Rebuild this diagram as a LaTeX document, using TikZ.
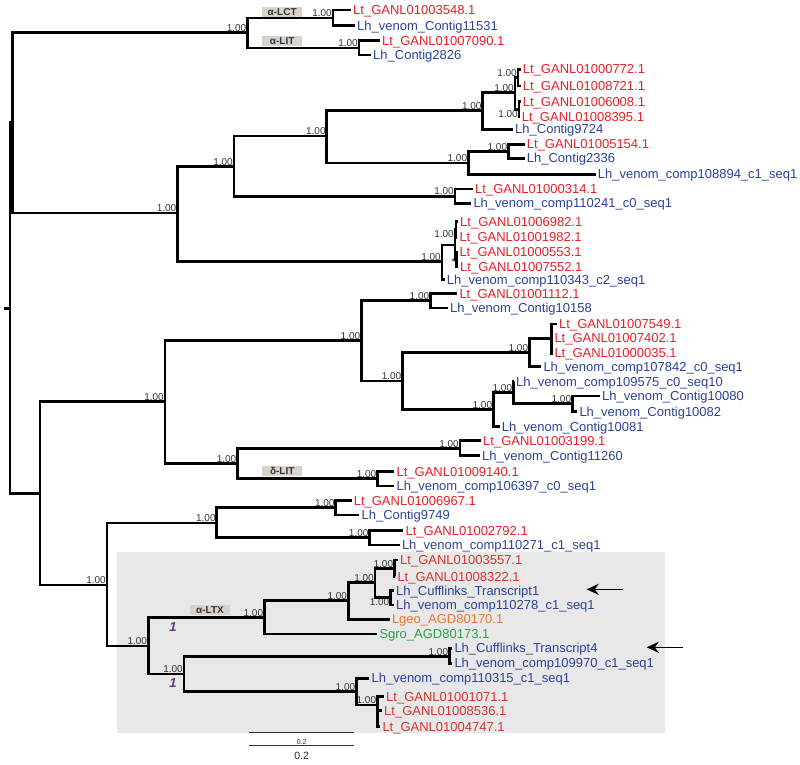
\documentclass[tikz,border=0pt]{standalone}
\usepackage{fontspec}
\setmainfont{Liberation Sans}
\usepackage{xcolor}
\usetikzlibrary{arrows.meta}

\definecolor{ltred}{RGB}{230,32,40}
\definecolor{ltredb}{RGB}{216,52,48}
\definecolor{lhblue}{RGB}{44,66,155}
\definecolor{lgeoorange}{RGB}{232,120,50}
\definecolor{sgrogreen}{RGB}{45,160,75}
\definecolor{boxgrey}{RGB}{232,232,232}
\definecolor{tagfill}{RGB}{217,211,205}
\definecolor{ltxpurple}{RGB}{105,50,140}

\begin{document}
\begin{tikzpicture}[x=1pt, y=-1pt,
  br/.style={line width=2.8pt},
  leaf/.style={anchor=west, inner xsep=2pt, inner ysep=0pt, text height=9.3pt, text depth=0pt, font=\fontsize{13}{15}\selectfont},
  lt/.style={leaf, text=ltred}, ltb/.style={leaf, text=ltredb}, lh/.style={leaf, text=lhblue},
  bsl/.style={font=\fontsize{10}{12}\selectfont, inner sep=1pt, text=black!80},
  boot/.style={label={[bsl]above left:1.00}},
  bootb/.style={label={[bsl]below left:1.00}},
  tag/.style={fill=tagfill, font=\fontsize{10}{11}\selectfont\bfseries, minimum width=40pt, minimum height=10pt, inner sep=0pt, text=black!80},
  pone/.style={font=\fontsize{13}{15}\selectfont\bfseries\itshape, text=ltxpurple, inner sep=0pt},
  arr/.style={line width=1.5pt, -{Stealth[length=12pt,width=11pt]}}]
\useasboundingbox (0,0) rectangle (800,764);
\fill[boxgrey] (117,552.3) rectangle (665,732.5);

\coordinate (rs) at (3.5,308.5);
\coordinate (r) at (10,308.5);
\coordinate (t0) at (12.5,122.3);
\coordinate[boot] (a1) at (247.5,32.3);
\coordinate[boot] (lct) at (333,18);
\coordinate[boot] (lit) at (359,48);
\node[tag] (glct) at (282.2,11.7) {α-LCT};
\node[tag] (glit) at (282.2,41.2) {α-LIT};
\node[lt] (lt3548) at (351,10) {Lt\_GANL01003548.1};
\node[lh] (lh11531) at (355,25.7) {Lh\_venom\_Contig11531};
\node[lt] (lt7090) at (380,40.7) {Lt\_GANL01007090.1};
\node[lh] (lh2826) at (371,55) {Lh\_Contig2826};

\coordinate[boot] (m1) at (177.5,213);
\coordinate[boot] (m2) at (234,166.7);
\coordinate[boot] (m4) at (326.8,136);
\coordinate[boot] (m6) at (482.7,110.8);
\coordinate[boot] (m8) at (515,92.5);
\coordinate[boot] (m9) at (518,77.7);
\coordinate[bootb] (m10) at (519,109.2);
\node[lt] (lt0772) at (520.7,69.3) {Lt\_GANL01000772.1};
\node[lt] (lt8721) at (520.7,86) {Lt\_GANL01008721.1};
\node[lt] (lt6008) at (520.7,101.7) {Lt\_GANL01006008.1};
\node[lt] (lt8395) at (519.7,116.7) {Lt\_GANL01008395.1};
\node[lh] (lh9724) at (513,129.3) {Lh\_Contig9724};
\coordinate[boot] (m7) at (468.3,163);
\coordinate[boot] (m11) at (508.3,151.3);
\node[lt] (lt5154) at (524.7,144.3) {Lt\_GANL01005154.1};
\node[lh] (lh2336) at (524.7,158.3) {Lh\_Contig2336};
\node[lh] (lh108894) at (595.7,174.3) {Lh\_venom\_comp108894\_c1\_seq1};
\coordinate[boot] (m5) at (455,196.2);
\node[lt] (lt0314) at (473,189) {Lt\_GANL01000314.1};
\node[lh] (lh110241) at (471.3,203.3) {Lh\_venom\_comp110241\_c0\_seq1};
\coordinate[boot] (m3) at (442,261.5);
\coordinate[label={[bsl,yshift=6pt]above left:1.00}] (q) at (455,245);
\coordinate (r1) at (456,229.5);
\coordinate[label={[bsl,yshift=-3pt]left:*}] (s1) at (456.5,259.3);
\node[lt] (lt6982) at (458,221.7) {Lt\_GANL01006982.1};
\node[lt] (lt1982) at (457.3,237.3) {Lt\_GANL01001982.1};
\node[lt] (lt0553) at (457.3,252) {Lt\_GANL01000553.1};
\node[lt] (lt7552) at (458,266.7) {Lt\_GANL01007552.1};
\node[lh] (lh110343) at (444.7,279.5) {Lh\_venom\_comp110343\_c2\_seq1};

\coordinate (b0) at (40,493.5);
\coordinate[boot] (c1) at (165,401.7);
\coordinate[boot] (c2) at (361.4,340.3);
\coordinate[boot] (c4) at (430.4,300.7);
\node[lt] (lt1112) at (457.3,293.5) {Lt\_GANL01001112.1};
\node[lh] (lh10158) at (448,308) {Lh\_venom\_Contig10158};
\coordinate[boot] (c5) at (402.5,381);
\coordinate[boot] (c6) at (529.3,352.3);
\coordinate (c8) at (551.7,338.5);
\node[lt] (lt7549) at (557,324) {Lt\_GANL01007549.1};
\node[lt] (lt7402) at (552.3,338.3) {Lt\_GANL01007402.1};
\node[lt] (lt0035) at (552.3,353.3) {Lt\_GANL01000035.1};
\node[lh] (lh107842) at (541.3,366.7) {Lh\_venom\_comp107842\_c0\_seq1};
\coordinate[boot] (c7) at (493.3,409.5);
\coordinate[boot] (c9) at (513.3,392.3);
\node[lh] (lh109575) at (514,381.7) {Lh\_venom\_comp109575\_c0\_seq10};
\coordinate[boot] (c10) at (572.3,403.3);
\node[lh] (lh10080) at (600,396) {Lh\_venom\_Contig10080};
\node[lh] (lh10082) at (577.3,411.7) {Lh\_venom\_Contig10082};
\node[lh] (lh10081) at (499.7,426.7) {Lh\_venom\_Contig10081};
\coordinate[boot] (c3) at (237.5,463.3);
\coordinate[boot] (c11) at (460,448.3);
\node[lt] (lt3199) at (481,440.7) {Lt\_GANL01003199.1};
\node[lh] (lh11260) at (480,455.7) {Lh\_venom\_Contig11260};
\coordinate[boot] (dl) at (377.5,478.5);
\node[tag] (gdlit) at (282.2,471.3) {δ-LIT};
\node[lt] (lt9140) at (394.4,471.7) {Lt\_GANL01009140.1};
\node[lh] (lh106397) at (394.4,486) {Lh\_venom\_comp106397\_c0\_seq1};

\coordinate[boot] (d1) at (107,585);
\coordinate[boot] (d2) at (216.8,523);
\coordinate[boot] (d4) at (335.7,507.8);
\node[lt] (lt6967) at (351.6,500.7) {Lt\_GANL01006967.1};
\node[lh] (lh9749) at (359.4,515) {Lh\_Contig9749};
\coordinate[boot] (d5) at (369.6,537.8);
\node[lt] (lt2792) at (403.4,530.7) {Lt\_GANL01002792.1};
\node[lh] (lh110271) at (399.8,545) {Lh\_venom\_comp110271\_c1\_seq1};
\coordinate[boot] (d3) at (148.2,646);
\coordinate[boot] (d6) at (264.3,617.3);
\node[tag] (gltx) at (210,609.8) {α-LTX};
\node[pone] (p1) at (173,626.7) {1};
\node[pone] (p2) at (173,682.7) {1};
\coordinate[boot] (d8) at (348.2,600.5);
\coordinate[boot] (d9) at (375,582.8);
\coordinate[boot] (d10) at (394.3,568.3);
\node[ltb] (lt3557) at (398,560) {Lt\_GANL01003557.1};
\node[ltb] (lt8322) at (395.3,576.7) {Lt\_GANL01008322.1};
\coordinate[bootb] (d11) at (390.5,597.8);
\node[lh] (lhcuf1) at (394,590.7) {Lh\_Cufflinks\_Transcript1};
\node[lh] (lh110278) at (394,605) {Lh\_venom\_comp110278\_c1\_seq1};
\node[leaf, text=lgeoorange] (lgeo) at (389.8,619.3) {Lgeo\_AGD80170.1};
\node[leaf, text=sgrogreen] (sgro) at (377.3,634) {Sgro\_AGD80173.1};
\coordinate[boot] (d7) at (184,674);
\coordinate[boot] (d12) at (449.3,656.7);
\node[lh] (lhcuf4) at (452.3,648.3) {Lh\_Cufflinks\_Transcript4};
\node[lh] (lh109970) at (452.3,663.3) {Lh\_venom\_comp109970\_c1\_seq1};
\coordinate[boot] (d13) at (356.4,691.7);
\node[lh] (lh110315) at (369.4,678.3) {Lh\_venom\_comp110315\_c1\_seq1};
\coordinate[boot] (d14) at (377.3,705);
\node[ltb] (lt1071) at (384,696.7) {Lt\_GANL01001071.1};
\node[ltb] (lt8536) at (382,710.7) {Lt\_GANL01008536.1};
\node[ltb] (lt4747) at (380.3,726.7) {Lt\_GANL01004747.1};

\draw[br] (rs) -- (r) (r) |- (t0) (r) |- (b0);
\draw[br] (t0) |- (a1) (t0) |- (m1);
\draw[br] (a1) |- (lct) (a1) |- (lit);
\draw[br] (lct) |- (lt3548.west) (lct) |- (lh11531.west);
\draw[br] (lit) |- (lt7090.west) (lit) |- (lh2826.west);
\draw[br] (m1) |- (m2) (m1) |- (m3);
\draw[br] (m2) |- (m4) (m2) |- (m5);
\draw[br] (m4) |- (m6) (m4) |- (m7);
\draw[br] (m6) |- (m8) (m6) |- (lh9724.west);
\draw[br] (m8) |- (m9) (m8) |- (m10);
\draw[br] (m9) |- (lt0772.west) (m9) |- (lt8721.west);
\draw[br] (m10) |- (lt6008.west) (m10) |- (lt8395.west);
\draw[br] (m7) |- (m11) (m7) |- (lh108894.west);
\draw[br] (m11) |- (lt5154.west) (m11) |- (lh2336.west);
\draw[br] (m5) |- (lt0314.west) (m5) |- (lh110241.west);
\draw[br] (m3) |- (q) (m3) |- (lh110343.west);
\draw[br] (q) |- (r1) (q) |- (s1);
\draw[br] (r1) |- (lt6982.west) (r1) |- (lt1982.west);
\draw[br] (s1) |- (lt0553.west) (s1) |- (lt7552.west);
\draw[br] (b0) |- (c1) (b0) |- (d1);
\draw[br] (c1) |- (c2) (c1) |- (c3);
\draw[br] (c2) |- (c4) (c2) |- (c5);
\draw[br] (c4) |- (lt1112.west) (c4) |- (lh10158.west);
\draw[br] (c5) |- (c6) (c5) |- (c7);
\draw[br] (c6) |- (c8) (c6) |- (lh107842.west);
\draw[br] (c8) |- (lt7549.west) (c8) |- (lt7402.west) (c8) |- (lt0035.west);
\draw[br] (c7) |- (c9) (c7) |- (lh10081.west);
\draw[br] (c9) |- (lh109575.west) (c9) |- (c10);
\draw[br] (c10) |- (lh10080.west) (c10) |- (lh10082.west);
\draw[br] (c3) |- (c11) (c3) |- (dl);
\draw[br] (c11) |- (lt3199.west) (c11) |- (lh11260.west);
\draw[br] (dl) |- (lt9140.west) (dl) |- (lh106397.west);
\draw[br] (d1) |- (d2) (d1) |- (d3);
\draw[br] (d2) |- (d4) (d2) |- (d5);
\draw[br] (d4) |- (lt6967.west) (d4) |- (lh9749.west);
\draw[br] (d5) |- (lt2792.west) (d5) |- (lh110271.west);
\draw[br] (d3) |- (d6) (d3) |- (d7);
\draw[br] (d6) |- (d8) (d6) |- (sgro.west);
\draw[br] (d8) |- (d9) (d8) |- (lgeo.west);
\draw[br] (d9) |- (d10) (d9) |- (d11);
\draw[br] (d10) |- (lt3557.west) (d10) |- (lt8322.west);
\draw[br] (d11) |- (lhcuf1.west) (d11) |- (lh110278.west);
\draw[br] (d7) |- (d12) (d7) |- (d13);
\draw[br] (d12) |- (lhcuf4.west) (d12) |- (lh109970.west);
\draw[br] (d13) |- (lh110315.west) (d13) |- (d14);
\draw[br] (d14) |- (lt1071.west) (d14) |- (lt8536.west) (d14) |- (lt4747.west);

\coordinate (ar1) at (622.7,589.3);
\coordinate (ah1) at (586.7,589.3);
\coordinate (ar2) at (682.7,647.3);
\coordinate (ah2) at (646.7,647.3);
\draw[arr] (ar1) -- (ah1);
\draw[arr] (ar2) -- (ah2);

\coordinate (sa1) at (249.3,732.7);
\coordinate (sb1) at (354,732.7);
\coordinate (sa2) at (249.3,745.3);
\coordinate (sb2) at (354,745.3);
\draw[line width=1.3pt, black!80] (sa1) -- (sb1);
\draw[line width=1.3pt, black!80] (sa2) -- (sb2);
\node[font=\fontsize{7}{8}\selectfont, inner sep=0pt, text=black!80] (sct) at (301.7,742) {0.2};
\node[font=\fontsize{10.5}{12}\selectfont, inner sep=0pt, text=black!85] (scl) at (301.7,755.5) {0.2};
\end{tikzpicture}
\end{document}
